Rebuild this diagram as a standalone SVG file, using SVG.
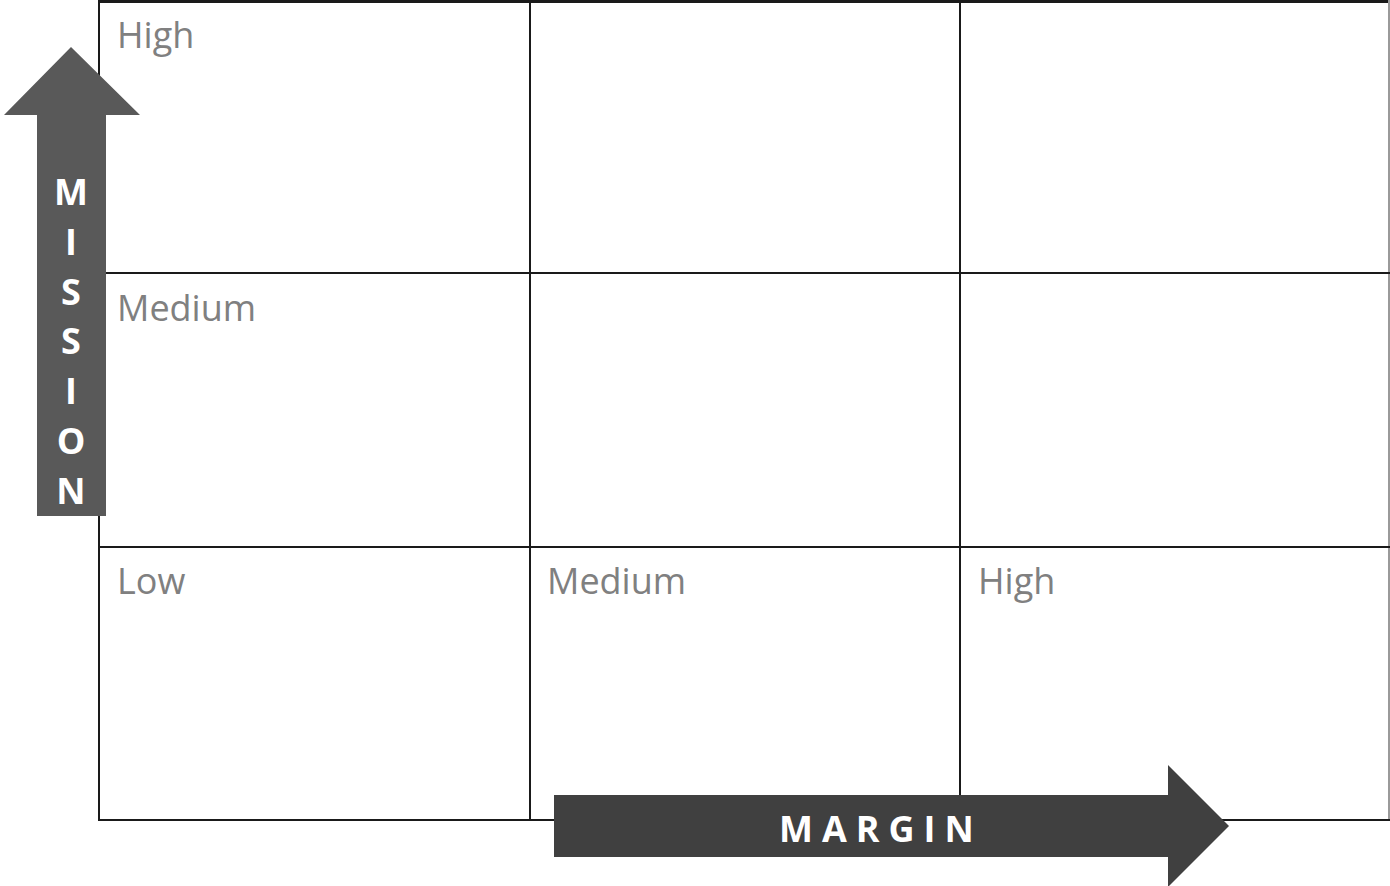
<svg xmlns="http://www.w3.org/2000/svg" width="1390" height="886" viewBox="0 0 1390 886">
<style>
.grid{stroke:#1a1a1a;stroke-width:2;fill:none}
.lbl{font-family:"Open Sans","Liberation Sans",sans-serif;font-size:36px;fill:#808080}
.ax{font-family:"Open Sans","Liberation Sans",sans-serif;font-weight:bold;font-size:36px;fill:#ffffff}
</style>
<rect width="1390" height="886" fill="#ffffff"/>
<g id="grid">
<line class="grid" x1="99" y1="1.5" x2="1390" y2="1.5" style="stroke-width:3"/>
<line class="grid" x1="1389" y1="0" x2="1389" y2="820" style="stroke:#9a9a9a"/>
<line class="grid" x1="99" y1="0" x2="99" y2="821"/>
<line class="grid" x1="530" y1="0" x2="530" y2="821"/>
<line class="grid" x1="960" y1="0" x2="960" y2="821"/>
<line class="grid" x1="99" y1="273" x2="1390" y2="273"/>
<line class="grid" x1="99" y1="547" x2="1390" y2="547"/>
<line class="grid" x1="99" y1="820" x2="1390" y2="820"/>
</g>
<g id="labels">
<text class="lbl" x="117" y="48">High</text>
<text class="lbl" x="117" y="321">Medium</text>
<text class="lbl" x="117" y="594">Low</text>
<text class="lbl" x="547" y="594">Medium</text>
<text class="lbl" x="978" y="594">High</text>
</g>
<g id="mission-arrow">
<polygon points="71,47 140,115 106,115 106,516 37,516 37,115 4,115" fill="#595959"/>
<text class="ax" text-anchor="middle" x="71" y="205">M</text>
<text class="ax" text-anchor="middle" x="71" y="255">I</text>
<text class="ax" text-anchor="middle" x="71" y="305">S</text>
<text class="ax" text-anchor="middle" x="71" y="354">S</text>
<text class="ax" text-anchor="middle" x="71" y="404">I</text>
<text class="ax" text-anchor="middle" x="71" y="454">O</text>
<text class="ax" text-anchor="middle" x="71" y="504">N</text>
</g>
<g id="margin-arrow">
<polygon points="554,795 1168,795 1168,765 1229,826 1168,887 1168,857 554,857" fill="#404040"/>
<text class="ax" x="779" y="842" letter-spacing="9">MARGIN</text>
</g>
</svg>
